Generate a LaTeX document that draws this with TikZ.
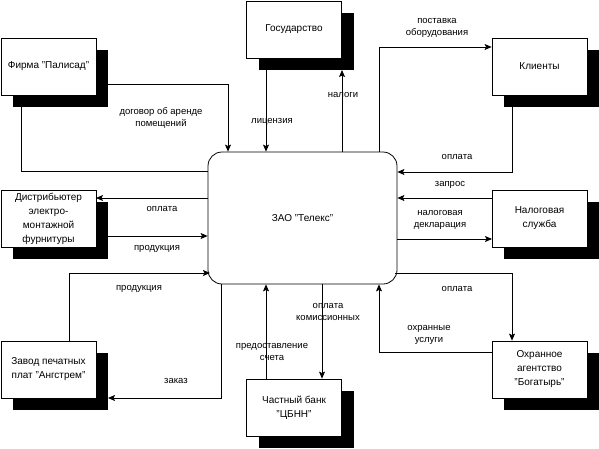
\documentclass[tikz,border=0pt]{standalone}
\usepackage{fontspec}
\setmainfont{Liberation Sans}
\usetikzlibrary{arrows.meta,shadows}
\begin{document}
\begin{tikzpicture}[x=1pt,y=-1pt,
  ent/.style={draw,fill=white,line width=0.8pt,minimum width=95pt,minimum height=57pt,inner sep=1pt,align=center,
    font=\fontsize{10}{14}\selectfont,
    general shadow={fill=black,shadow xshift=12pt,shadow yshift=-12pt}},
  proc/.style={draw,fill=white,line width=0.8pt,rounded corners=14pt,minimum width=189pt,minimum height=132pt,font=\fontsize{10}{14}\selectfont},
  arr/.style={line width=0.8pt,-{Stealth[length=7pt,width=6pt,inset=1.5pt]}},
  ln/.style={line width=0.8pt},
  lbl/.style={align=center,inner sep=0pt,font=\fontsize{9.5}{12.5}\selectfont}]
\useasboundingbox (0,0) rectangle (599,448);
% entities
\node[ent] (firm) at (48.5,66.5) {Фирма "Палисад"};
\node[ent] (gov) at (294,29.5) {Государство};
\node[ent] (cli) at (539.5,66.5) {Клиенты};
\node[ent] (dist) at (48.5,218.5) {Дистрибьютер\\электро-\\монтажной\\фурнитуры};
\node[ent] (tax) at (539.5,218.5) {Налоговая\\служба};
\node[ent] (plant) at (48.5,369.5) {Завод печатных\\плат "Ангстрем"};
\node[ent] (bank) at (294,407.5) {Частный банк\\"ЦБНН"};
\node[ent] (guard) at (539.5,369.5) {Охранное\\агентство\\"Богатырь"};
\node[proc] (c) at (302.5,218) {ЗАО "Телекс"};
% coordinates
\coordinate (f1) at (108,84);
\coordinate (k1) at (228,84);
\coordinate (f2) at (21,107);
\coordinate (k2) at (21,171);
\coordinate (g1) at (266,70);
\coordinate (g2) at (342,70);
\coordinate (k5) at (379,47);
\coordinate (k6a) at (512,107);
\coordinate (k6) at (512,172);
\coordinate (t1) at (492,198);
\coordinate (t2) at (492,239);
\coordinate (k9a) at (395,273);
\coordinate (k9) at (512,273);
\coordinate (k10a) at (492,352);
\coordinate (k10) at (379,352);
\coordinate (b1) at (322,0);
\coordinate (b2) at (266,379);
\coordinate (p1) at (69,273);
\coordinate (p1e) at (210,273);
\coordinate (p2) at (221,398);
\coordinate (p2e) at (108,398);
\coordinate (d1) at (96,198);
\coordinate (d2) at (108,236);
% connectors
\draw[arr] (f1) -- (k1) -- (k1 |- c.north);
\draw[ln] (f2) -- (k2) -- (k2 -| c.west);
\draw[arr] (g1) -- (g1 |- c.north);
\draw[arr] (g2 |- c.north) -- (g2);
\draw[arr] (k5 |- c.north) -- (k5) -- (k5 -| cli.west);
\draw[arr] (k6a) -- (k6) -- (k6 -| c.east);
\draw[arr] (t1) -- (t1 -| c.east);
\draw[arr] (t2 -| c.east) -- (t2);
\draw[arr] (k9a) -- (k9) -- (k9 |- guard.north);
\draw[arr] (k10a) -- (k10) -- (k10 |- c.south);
\draw[arr] (c.south -| b1) -- (bank.north -| b1);
\draw[arr] (b2) -- (b2 |- c.south);
\draw[arr] (p1 |- plant.north) -- (p1) -- (p1e);
\draw[arr] (p2 |- c.south) -- (p2) -- (p2e);
\draw[arr] (d1 -| c.west) -- (d1);
\draw[arr] (d2) -- (d2 -| c.west);
% labels
\node[lbl] (l1) at (161,118) {договор об аренде\\помещений};
\node[lbl] (l2) at (272,122) {лицензия};
\node[lbl] (l3) at (343,95) {налоги};
\node[lbl] (l4) at (437,28) {поставка\\оборудования};
\node[lbl] (l5) at (457,157) {оплата};
\node[lbl] (l6) at (450,185) {запрос};
\node[lbl] (l7) at (440,220) {налоговая\\декларация};
\node[lbl] (l8) at (457,289) {оплата};
\node[lbl] (l9) at (429,335) {охранные\\услуги};
\node[lbl] (l10) at (328,312) {оплата\\комиссионных};
\node[lbl] (l11) at (272,352) {предоставление\\счета};
\node[lbl] (l12) at (139,289) {продукция};
\node[lbl] (l13) at (176,381) {заказ};
\node[lbl] (l14) at (162,209) {оплата};
\node[lbl] (l15) at (157,249) {продукция};
\end{tikzpicture}
\end{document}
